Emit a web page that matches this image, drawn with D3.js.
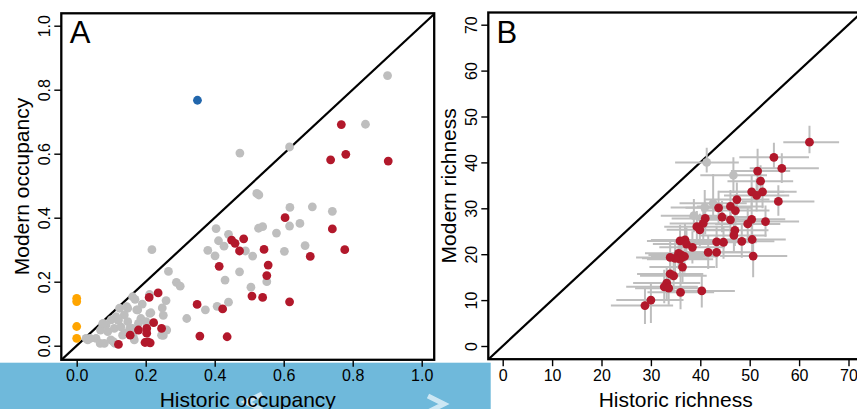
<!DOCTYPE html>
<html><head><meta charset="utf-8">
<script src="https://cdn.jsdelivr.net/npm/d3@7"></script>
<style>body{margin:0;background:#fff}svg{display:block}text{font-family:"Liberation Sans",Arial,Helvetica,sans-serif;fill:#000}</style>
</head><body><svg id="c" width="857" height="409"></svg>
<script>
// ---------- Panel A data (historic vs modern occupancy) ----------
const grayHistA = [0.901,0.837,0.473,0.617,0.522,0.528,0.618,0.683,0.741,0.404,0.440,0.527,0.539,0.579,0.617,0.647,0.411,0.427,0.380,0.401,0.489,0.510,0.602,0.662,0.218,0.266,0.289,0.300,0.430,0.472,0.505,0.551,0.407,0.440,0.373,0.319,
  0.259,0.248,0.251,0.251,0.162,0.169,0.211,0.148,0.138,0.177,0.186,0.215,0.201,0.114,0.100,0.075,0.069,0.090,0.109,0.128,0.133,0.099,0.056,0.032,0.027,0.080,0.167,0.162,0.179,0.148,0.124,0.068,0.111,0.145,0.190,0.085,0.120,0.155,0.039,0.106,0.077,0.121,0.174,0.212,0.154,0.140,0.164,0.246,0.261];
const grayModA  = [0.844,0.692,0.602,0.621,0.476,0.471,0.432,0.434,0.420,0.366,0.348,0.367,0.372,0.352,0.374,0.382,0.328,0.311,0.298,0.281,0.296,0.280,0.295,0.313,0.300,0.232,0.198,0.186,0.205,0.231,0.183,0.200,0.123,0.136,0.112,0.085,
  0.141,0.118,0.095,0.032,0.153,0.145,0.160,0.117,0.096,0.112,0.085,0.103,0.075,0.091,0.081,0.068,0.049,0.044,0.054,0.059,0.033,0.018,0.023,0.018,0.023,0.007,0.018,0.054,0.070,0.075,0.117,0.007,0.007,0.122,0.130,0.065,0.080,0.040,0.023,0.013,0.070,0.080,0.112,0.101,0.054,0.039,0.028,0.033,0.049];
const redHistA = [0.767,0.736,0.780,0.903,0.604,0.741,0.777,0.677,0.449,0.459,0.484,0.472,0.543,0.413,0.555,0.551,0.508,0.539,0.617,0.349,0.423,0.357,0.436,0.210,0.236,0.223,0.246,0.203,0.203,0.179,0.155,0.121,0.198,0.213,0.206];
const redModA  = [0.691,0.581,0.598,0.577,0.400,0.365,0.300,0.279,0.330,0.320,0.334,0.296,0.301,0.248,0.252,0.219,0.155,0.151,0.137,0.129,0.115,0.030,0.028,0.151,0.165,0.072,0.054,0.054,0.039,0.049,0.033,0.004,0.010,0.009,0.012];
const orangeHistA = [0,0,0,0];
const orangeModA  = [0.148,0.138,0.060,0.023];
const blueHistA = [0.350];
const blueModA  = [0.767];
const ticksA = [0,0.2,0.4,0.6,0.8,1.0];

// ---------- Panel B data (historic vs modern richness, with intervals) ----------
const redHistB   = [62.1,54.9,56.5,51.6,52.2,50.4,52.6,51.4,47.4,55.8,43.7,46.1,47.1,44.4,46.1,49.6,50.4,53.2,41.0,40.6,39.3,39.9,47.0,46.8,50.5,48.4,50.7,43.3,44.7,43.3,41.6,38.4,35.9,36.9,37.2,35.6,36.2,36.8,35.9,34.9,33.9,36.4,33.9,34.6,33.2,32.7,33.6,36.0,40.3,30.0,28.8];
const redModB    = [44.4,41.1,38.7,38.1,35.9,33.6,33.6,32.8,31.9,31.5,30.1,30.4,29.5,28.1,27.5,26.6,27.6,27.1,27.8,26.7,26.0,25.3,25.2,24.1,23.2,22.8,19.6,22.7,22.6,20.4,20.4,21.5,22.9,23.1,22.2,20.2,19.8,19.5,18.9,19.1,19.3,17.2,15.7,15.3,13.7,12.9,12.6,11.7,12.0,10.0,8.8];
const redHistLoB = [56.8,47.9,50.0,46.2,45.5,43.6,46.0,44.8,40.8,48.4,37.0,39.3,40.2,37.8,39.4,43.0,43.7,46.5,34.2,33.8,32.7,33.2,40.3,40.0,43.8,41.6,44.0,36.6,38.0,36.5,34.8,31.7,29.2,30.0,30.4,28.8,29.5,30.0,29.2,28.2,27.0,29.7,27.2,27.8,26.4,25.0,26.8,29.3,33.6,23.0,21.9];
const redHistHiB = [68.1,62.0,64.0,58.2,58.8,57.0,59.5,58.0,54.0,63.1,50.5,52.8,54.0,51.0,52.9,56.2,57.2,60.0,47.8,47.3,46.0,46.6,53.8,53.4,57.3,55.0,57.6,50.0,51.4,50.2,48.3,45.0,42.6,43.6,43.9,42.3,43.0,43.5,42.6,41.6,40.6,43.0,40.6,41.3,40.0,39.5,40.4,42.8,47.0,36.6,34.5];
const redModLoB  = [42.0,38.6,35.5,33.3,32.6,30.4,30.0,29.3,28.5,28.4,26.8,27.0,26.0,24.8,24.0,23.2,24.3,23.8,24.3,23.2,22.6,21.8,21.8,20.6,19.8,19.2,15.0,19.2,19.0,17.0,16.8,18.0,19.4,19.6,18.7,16.8,16.3,16.0,15.4,15.6,15.8,13.5,12.0,11.7,10.0,9.3,9.0,8.0,8.4,5.0,4.8];
const redModHiB  = [48.0,44.3,42.0,43.0,39.4,37.2,36.8,36.5,35.6,35.0,33.8,34.0,33.0,31.6,31.0,30.0,31.2,30.6,31.4,30.2,29.4,28.8,28.7,27.6,26.7,26.4,24.0,26.2,26.0,24.0,24.0,25.0,26.4,26.6,25.8,23.6,23.3,23.0,22.4,22.6,22.8,20.8,19.4,19.0,17.3,16.6,16.2,15.4,15.6,13.6,12.4];
const grayHistB   = [41.3,46.7,38.7,40.9,42.6];
const grayModB    = [40.0,37.2,28.4,30.2,31.1];
const grayHistLoB = [34.9,40.0,32.0,34.0,35.8];
const grayHistHiB = [47.8,53.5,45.5,47.7,49.4];
const grayModLoB  = [37.8,33.3,24.8,26.5,27.5];
const grayModHiB  = [43.2,41.1,32.0,34.0,37.5];
const ticksB = [0,10,20,30,40,50,60,70];

// ---------- styles ----------
const RED="#B2182B", GRAY="#BEBEBE", ORANGE="#FFA500", BLUE="#2166AC";
const svg = d3.select("#c");

// background bar at the bottom (as in the reference screenshot)
svg.append("rect").attr("x",0).attr("y",362.7).attr("width",490.7).attr("height",46.3).attr("fill","#6fb9db");
svg.append("path").attr("d","M262,394 L246,402 L262,410").attr("fill","none").attr("stroke","#e4f3fa").attr("stroke-width",5).attr("opacity",0.8);
svg.append("path").attr("d","M428,396 L444,404 L428,412").attr("fill","none").attr("stroke","#e4f3fa").attr("stroke-width",5).attr("opacity",0.8);

function panel(cfg){
  const g = svg.append("g");
  const x = d3.scaleLinear().domain(cfg.dom).range(cfg.xr);
  const y = d3.scaleLinear().domain(cfg.dom).range(cfg.yr);
  const b = cfg.box;
  const clipId = "clip"+cfg.id;
  svg.append("clipPath").attr("id",clipId).append("rect")
    .attr("x",b.l).attr("y",b.t).attr("width",b.r-b.l).attr("height",b.b-b.t);
  const inner = g.append("g").attr("clip-path","url(#"+clipId+")");
  // 1:1 line
  const lo = x.invert(b.l), hi = x.invert(b.r);
  inner.append("line").attr("x1",x(lo-5)).attr("y1",y(lo-5)).attr("x2",x(hi+5)).attr("y2",y(hi+5))
    .attr("stroke","#000").attr("stroke-width",2.2);
  cfg.draw(inner,x,y);
  // box
  g.append("rect").attr("x",b.l).attr("y",b.t).attr("width",b.r-b.l).attr("height",b.b-b.t)
    .attr("fill","none").attr("stroke","#000").attr("stroke-width",2.3);
  // axes
  const ax = g.append("g").attr("transform",`translate(0,${b.b})`)
    .call(d3.axisBottom(x).tickValues(cfg.ticks).tickFormat(cfg.fmt).tickSize(7).tickPadding(3));
  const ay = g.append("g").attr("transform",`translate(${b.l},0)`)
    .call(d3.axisLeft(y).tickValues(cfg.ticks).tickFormat(cfg.fmt).tickSize(7));
  [ax,ay].forEach(a=>{a.select(".domain").remove();
    a.selectAll(".tick line").attr("stroke","#000").attr("stroke-width",1.4);
    a.selectAll("text").attr("font-size",16).attr("font-family","'Liberation Sans',Arial,sans-serif").attr("fill","#000");});
  ay.selectAll(".tick text").attr("x",null).attr("dy",null).attr("text-anchor","middle")
    .attr("transform","translate(-11,0) rotate(-90)");
  // titles
  g.append("text").attr("x",(b.l+b.r)/2).attr("y",406.5).attr("text-anchor","middle").attr("font-size",21).text(cfg.xt);
  g.append("text").attr("transform",`translate(${b.l-32.6},${(b.t+b.b)/2}) rotate(-90)`).attr("text-anchor","middle").attr("font-size",21).text(cfg.yt);
  g.append("text").attr("x",b.l+cfg.lx).attr("y",43).attr("font-size",31).text(cfg.label);
}

function dots(sel,xs,ys,x,y,col){
  sel.append("g").selectAll("circle").data(xs.map((v,i)=>[v,ys[i]])).join("circle")
    .attr("cx",d=>x(d[0])).attr("cy",d=>y(d[1])).attr("r",4.4).attr("fill",col);
}

panel({id:"A", dom:[0,1], xr:[76.7,421.7], yr:[345.7,25.7],
  box:{l:61.3,r:434.2,t:13.3,b:359.8}, ticks:ticksA, fmt:d3.format(".1f"),
  xt:"Historic occupancy", yt:"Modern occupancy", label:"A", lx:8.5,
  draw:(s,x,y)=>{
    dots(s,grayHistA,grayModA,x,y,GRAY);
    dots(s,redHistA,redModA,x,y,RED);
    dots(s,orangeHistA,orangeModA,x,y,ORANGE);
    dots(s,blueHistA,blueModA,x,y,BLUE);
  }});

panel({id:"B", dom:[0,70], xr:[502.7,848.5], yr:[346,24.7],
  box:{l:488.3,r:863,t:12.5,b:359.2}, ticks:ticksB, fmt:d3.format("d"),
  xt:"Historic richness", yt:"Modern richness", label:"B", lx:8.3,
  draw:(s,x,y)=>{
    const bars=(hx,my,hlo,hhi,mlo,mhi)=>{
      const gb=s.append("g").attr("stroke",GRAY).attr("stroke-width",2);
      hx.forEach((v,i)=>{
        gb.append("line").attr("x1",x(hlo[i])).attr("x2",x(hhi[i])).attr("y1",y(my[i])).attr("y2",y(my[i]));
        gb.append("line").attr("x1",x(v)).attr("x2",x(v)).attr("y1",y(mlo[i])).attr("y2",y(mhi[i]));
      });
    };
    bars(grayHistB,grayModB,grayHistLoB,grayHistHiB,grayModLoB,grayModHiB);
    bars(redHistB,redModB,redHistLoB,redHistHiB,redModLoB,redModHiB);
    dots(s,grayHistB,grayModB,x,y,GRAY);
    dots(s,redHistB,redModB,x,y,RED);
  }});
</script></body></html>
